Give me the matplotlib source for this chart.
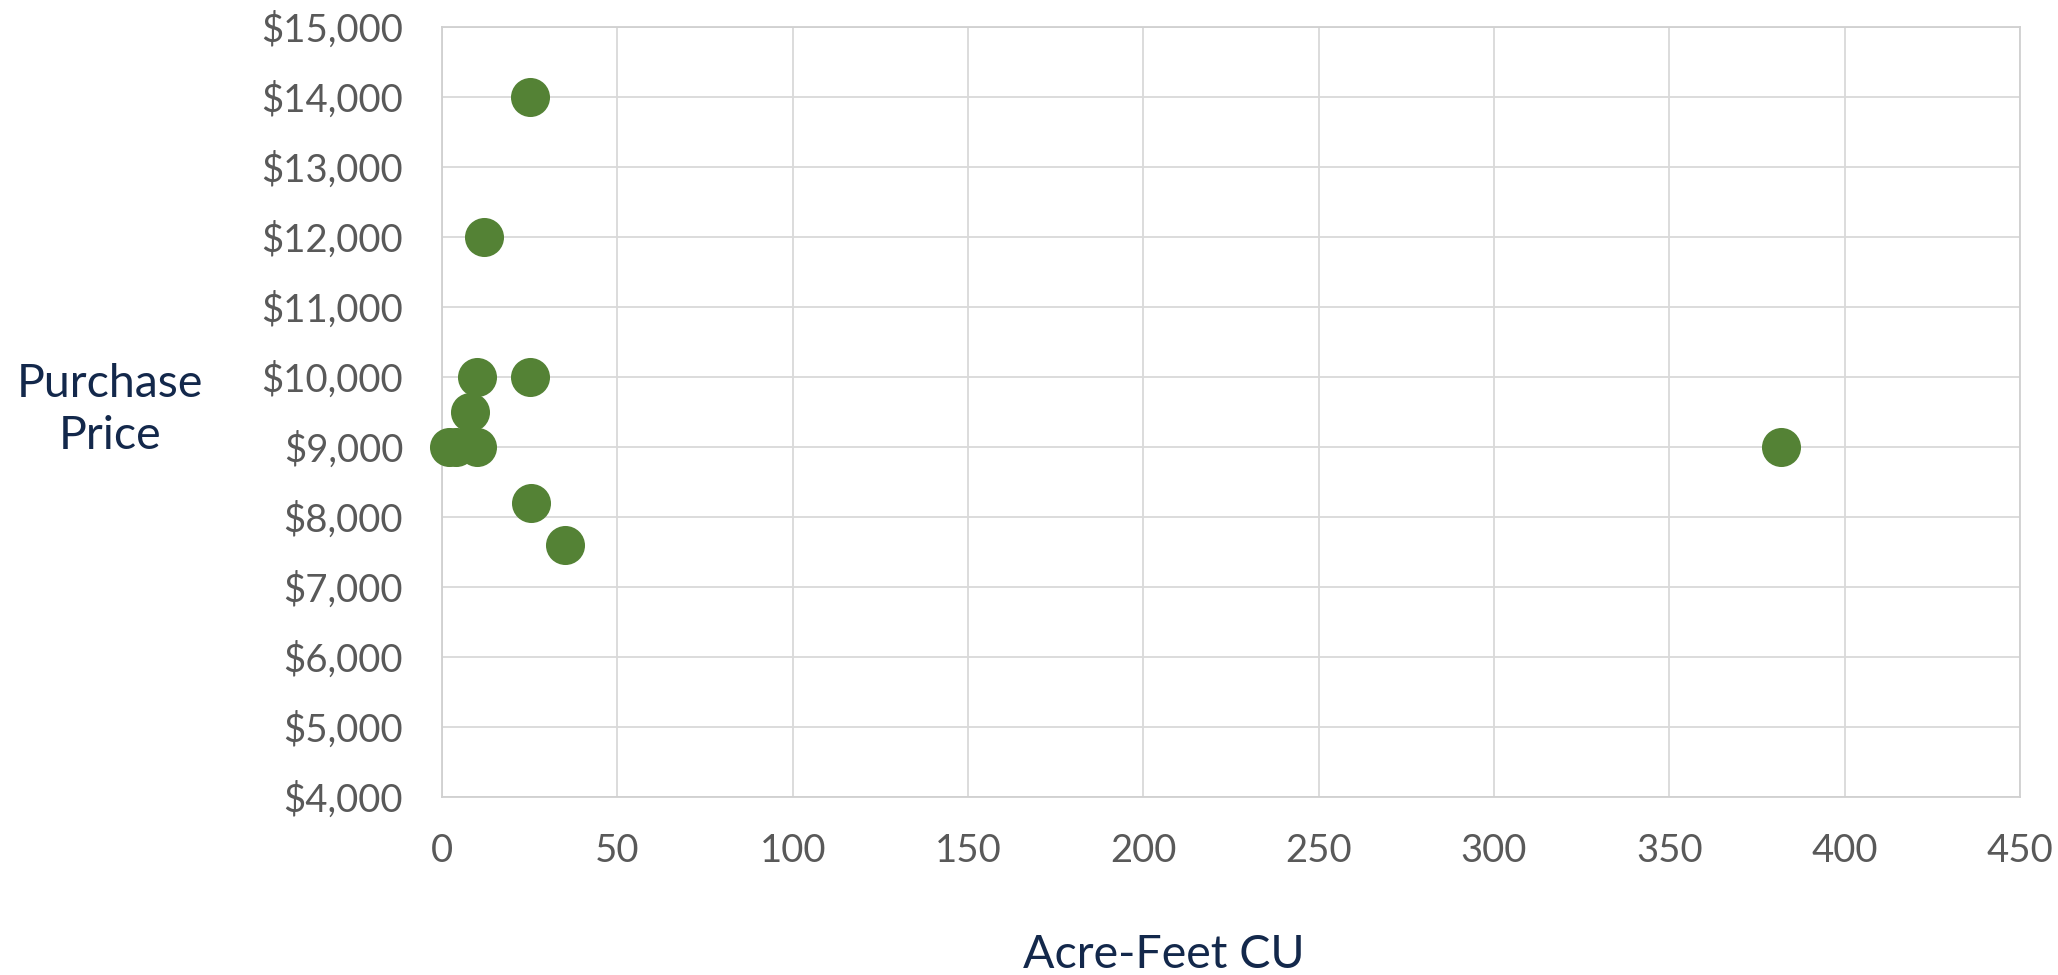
import matplotlib.pyplot as plt
from matplotlib.ticker import FuncFormatter

# данные (acre-feet CU, purchase price)
acre_feet = [25, 12, 10, 25, 8, 2, 4, 10, 382, 25.5, 35]
price = [14000, 12000, 10000, 10000, 9500, 9000, 9000, 9000, 9000, 8200, 7600]

x_ticks = [0, 50, 100, 150, 200, 250, 300, 350, 400, 450]
y_ticks = list(range(4000, 15001, 1000))

green = '#548235'
navy = '#13284B'
grey_text = '#595959'
grid_col = '#D9D9D9'

plt.rcParams['font.family'] = ['Lato', 'DejaVu Sans']

fig = plt.figure(figsize=(20.58, 9.75), dpi=100)
ax = fig.add_axes([0.2148, 0.1826, 0.7667, 0.79])

ax.scatter(acre_feet, price, s=790, color=green, edgecolors=green,
           linewidths=0, zorder=3, clip_on=False)

ax.set_xlim(0, 450)
ax.set_ylim(4000, 15000)
ax.set_xticks(x_ticks)
ax.set_yticks(y_ticks)
ax.yaxis.set_major_formatter(FuncFormatter(lambda v, p: '${:,.0f}'.format(v)))

ax.grid(True, color=grid_col, linewidth=1.3, zorder=0)
ax.set_axisbelow(True)
for s in ax.spines.values():
    s.set_color('#D0D0D0')
    s.set_linewidth(1.3)

ax.tick_params(axis='both', length=0, labelsize=27.5, labelcolor=grey_text)
ax.tick_params(axis='x', pad=26)
ax.tick_params(axis='y', pad=28)

fig.text(110 / 2058, 1 - 410 / 975, 'Purchase\nPrice', ha='center', va='center',
         multialignment='center', fontsize=33.5, color=navy, linespacing=1.3)
fig.text(1164 / 2058, 1 - 968 / 975, 'Acre-Feet CU', ha='center', va='baseline',
         fontsize=33.5, color=navy)

fig.savefig('out.png', dpi=100)
